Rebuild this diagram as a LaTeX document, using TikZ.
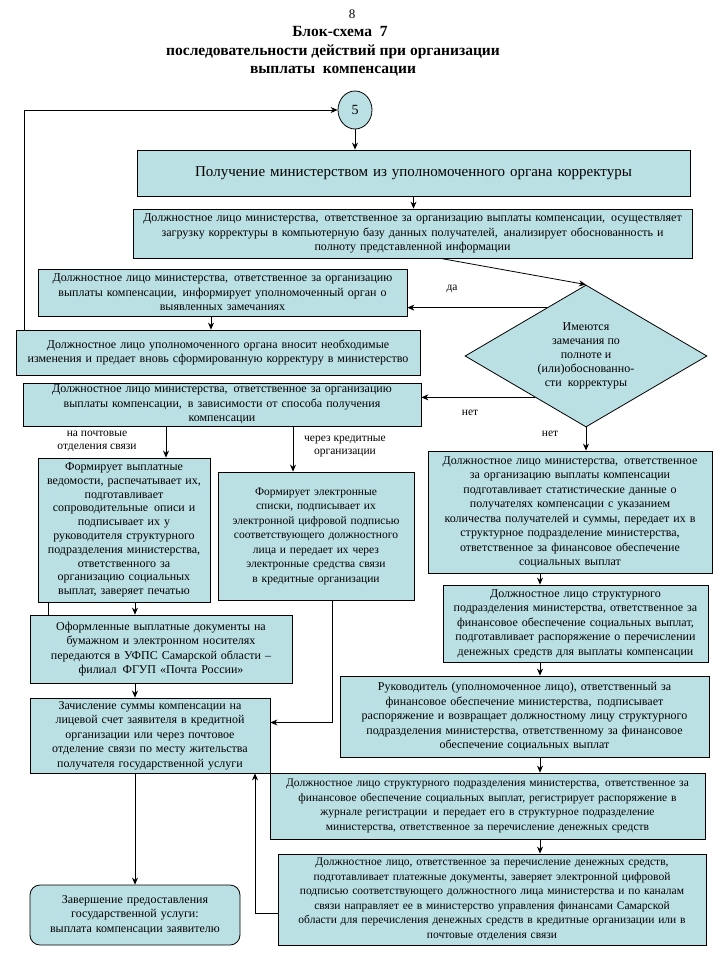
\documentclass[tikz,border=0pt]{standalone}
\usepackage{fontspec}
\setmainfont{Liberation Serif}
\usepackage{tikz}
\usetikzlibrary{arrows.meta, shapes.geometric}
\definecolor{boxfill}{RGB}{187,224,228}

\begin{document}
\begin{tikzpicture}[x=1pt, y=-1pt,
  box/.style={draw, line width=0.8pt, fill=boxfill, inner sep=0pt, align=center,
    font=\fontsize{12}{14.5}\selectfont},
  lab/.style={font=\fontsize{11.5}{13}\selectfont, align=center, inner sep=0pt},
  head/.style={font=\fontsize{15.5}{17}\selectfont\bfseries, inner sep=0pt},
  arr/.style={-{Stealth[length=7pt, width=6pt]}, line width=0.8pt},
  ln/.style={line width=0.8pt}]

  \useasboundingbox (0,0) rectangle (720,960);

  % Title
  \node[font=\fontsize{13}{14}\selectfont, inner sep=0pt] (pg) at (352,14) {8};
  \node[head] (t1) at (340,32) {Блок-схема\enspace 7};
  \node[head] (t2) at (333,52) {последовательности действий при организации};
  \node[head] (t3) at (333,71) {выплаты\enspace компенсации};

  % Start
  \node[ellipse, draw, line width=0.8pt, fill=boxfill, minimum width=34pt, minimum height=38pt,
    inner sep=0pt, font=\fontsize{14}{16}\selectfont] (c5) at (355,110) {5};

  \node[box, font=\fontsize{15}{17}\selectfont, text width=553pt, minimum height=46pt] (get) at (413.5,173)
    {Получение министерством из уполномоченного органа корректуры};
  \node[box, text width=559pt, minimum height=49pt] (load) at (412.5,233.5)
    {Должностное лицо министерства,\enspace ответственное за организацию выплаты компенсации,\enspace осуществляет\\
     загрузку корректуры в компьютерную базу данных получателей,\enspace анализирует обоснованность и\\
     полноту представленной информации};

  % Check
  \node[diamond, draw, line width=0.8pt, fill=boxfill, aspect=1.7, minimum width=242pt, minimum height=142pt,
    inner sep=0pt, align=center, font=\fontsize{12}{14}\selectfont] (dia) at (586,356)
    {Имеются\\ замечания по\\ полноте и\\ (или)обоснованно-\\ сти\enspace корректуры};

  \node[box, text width=369pt, minimum height=47pt] (inform) at (222.5,292.5)
    {Должностное лицо министерства,\enspace ответственное за организацию\\
     выплаты компенсации,\enspace информирует уполномоченный орган о\\
     выявленных замечаниях};
  \node[box, text width=404pt, minimum height=45pt] (redo) at (218,352.5)
    {Должностное лицо уполномоченного органа вносит необходимые\\
     изменения и предает вновь сформированную корректуру в министерство};
  \node[box, text width=398pt, minimum height=43pt] (route) at (222,404.5)
    {Должностное лицо министерства,\enspace ответственное за организацию\\
     выплаты компенсации,\enspace в зависимости от способа получения\\
     компенсации};

  \node[lab] (yes) at (452,289) {да};
  \node[lab] (no1) at (470,413) {нет};
  \node[lab] (no2) at (550,434) {нет};
  \node[lab] (bypost) at (97,441) {на почтовые\\ отделения связи};
  \node[lab] (bybank) at (345,447) {через кредитные\\ организации};

  % Left branch
  \node[box, font=\fontsize{12}{13.8}\selectfont, text width=172pt, minimum height=144pt] (post) at (124,530)
    {Формирует выплатные\\ ведомости, распечатывает их,\\ подготавливает\\ сопроводительные\enspace описи и\\
     подписывает их у\\ руководителя структурного\\ подразделения министерства,\\ ответственного за\\
     организацию социальных\\ выплат, заверяет печатью};
  \node[box, font=\fontsize{11.5}{14.5}\selectfont, text width=196pt, minimum height=128pt] (bank) at (316,536)
    {Формирует электронные\\ списки, подписывает их\\ электронной цифровой подписью\\
     соответствующего должностного\\ лица и передает их через\\ электронные средства связи\\
     в кредитные организации};
  \node[box, text width=262pt, minimum height=68pt] (docs) at (161,649)
    {Оформленные выплатные документы на\\ бумажном и электронном носителях\\
     передаются в УФПС Самарской области --\\ филиал\enspace ФГУП «Почта России»};
  \node[box, text width=240pt, minimum height=75pt] (credit) at (150,735.5)
    {Зачисление суммы компенсации на\\ лицевой счет заявителя в кредитной\\
     организации или через почтовое\\ отделение связи по месту жительства\\
     получателя государственной услуги};
  \node[box, rounded corners=10pt, text width=210pt, minimum height=60pt] (fin) at (135,915)
    {Завершение предоставления\\ государственной услуги:\\ выплата компенсации заявителю};

  % Right branch
  \node[box, text width=284pt, minimum height=122pt] (stat) at (570,512)
    {Должностное лицо министерства,\enspace ответственное\\ за организацию выплаты компенсации\\
     подготавливает статистические данные о\\ получателях компенсации с указанием\\
     количества получателей и суммы, передает их в\\ структурное подразделение министерства,\\
     ответственное за финансовое обеспечение\\ социальных выплат};
  \node[box, text width=265pt, minimum height=77pt] (order) at (575.5,623.5)
    {Должностное лицо структурного\\ подразделения министерства, ответственное за\\
     финансовое обеспечение социальных выплат,\\ подготавливает распоряжение о перечислении\\
     денежных средств для выплаты компенсации};
  \node[box, text width=369pt, minimum height=81pt] (sign) at (524.5,716.5)
    {Руководитель (уполномоченное лицо), ответственный за\\ финансовое обеспечение министерства,\enspace подписывает\\
     распоряжение и возвращает должностному лицу структурного\\ подразделения министерства, ответственному за финансовое\\
     обеспечение социальных выплат};
  \node[box, font=\fontsize{11.5}{14.5}\selectfont, text width=435pt, minimum height=66pt] (reg) at (487.5,806)
    {Должностное лицо структурного подразделения министерства,\enspace ответственное за\\
     финансовое обеспечение социальных выплат, регистрирует распоряжение в\\
     журнале регистрации\enspace и передает его в структурное подразделение\\
     министерства, ответственное за перечисление денежных средств};
  \node[box, font=\fontsize{11.5}{14.5}\selectfont, text width=428pt, minimum height=91pt] (pay) at (492,899.5)
    {Должностное лицо, ответственное за перечисление денежных средств,\\
     подготавливает платежные документы, заверяет электронной цифровой\\
     подписью соответствующего должностного лица министерства и по каналам\\
     связи направляет ее в министерство управления финансами Самарской\\
     области для перечисления денежных средств в кредитные организации или в\\
     почтовые отделения связи};

  % Columns for connectors
  \coordinate (loopx) at (24,0);
  \coordinate (inx) at (211,0);
  \coordinate (postx) at (166,0);
  \coordinate (bankx) at (293,0);
  \coordinate (tickx) at (48,0);
  \coordinate (lcol) at (135,0);
  \coordinate (credx) at (332,0);
  \coordinate (backx) at (255,0);
  \coordinate (rcol) at (540,0);

  % Connectors
  \draw[arr] (redo.north -| loopx) |- (c5.west);
  \draw[arr] (c5.south) -- (c5.south |- get.north);
  \draw[arr] (get.south) -- (get.south |- load.north);
  \draw[arr] ([xshift=28pt]load.south) -- (dia.north);
  \draw[arr] (dia.129) -- (dia.129 -| inform.east);
  \draw[arr] (inform.south -| inx) -- (redo.north -| inx);
  \draw[arr] (dia.219) -- (dia.219 -| route.east);
  \draw[arr] (dia.south) -- (dia.south |- stat.north);
  \draw[arr] (route.south -| postx) -- (post.north -| postx);
  \draw[arr] (route.south -| bankx) -- (bank.north -| bankx);
  \draw[arr] (post.south -| lcol) -- (docs.north -| lcol);
  \draw[ln] (post.south -| tickx) -- (docs.north -| tickx);
  \draw[arr] (docs.south -| lcol) -- (credit.north -| lcol);
  \draw[arr] (bank.south -| credx) |- ([yshift=13pt]credit.east);
  \draw[arr] (credit.south -| lcol) -- (fin.north);
  \draw[arr] (stat.south -| rcol) -- (order.north -| rcol);
  \draw[arr] (order.south -| rcol) -- (sign.north -| rcol);
  \draw[arr] (sign.south -| rcol) -- (reg.north -| rcol);
  \draw[arr] (reg.south -| rcol) -- (pay.north -| rcol);
  \draw[arr] ([yshift=-14pt]pay.west) -| (credit.south -| backx);

\end{tikzpicture}
\end{document}
